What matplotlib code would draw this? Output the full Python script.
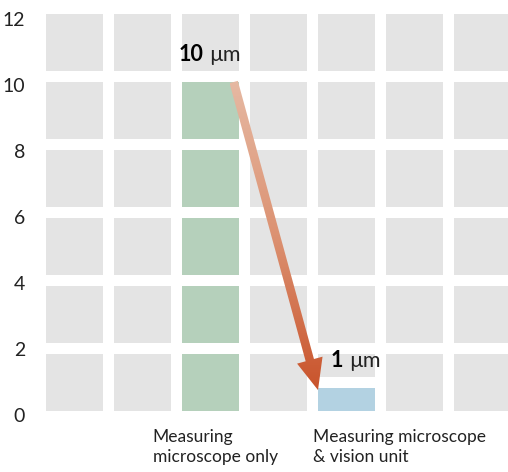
import numpy as np
import matplotlib
matplotlib.use('Agg')
import matplotlib.pyplot as plt
from matplotlib.patches import Rectangle, Polygon
from matplotlib.colors import LinearSegmentedColormap

# data
categories = ['Measuring\nmicroscope only', 'Measuring microscope\n& vision unit']
values = [10, 1]
value_labels = ['10', '1']
unit = 'µm'
cat_cols = [2, 4]
bar_colors = ['#b5d0bb', '#b3d2e2']
yticks = [0, 2, 4, 6, 8, 10, 12]
n_cols = 7
n_rows = 6

# layout
label_dx = [0.31, 0.37]
cat_text_x = [1.57, 3.93]
tile_color = '#e4e4e4'
text_color = '#222222'

plt.rcParams['font.family'] = ['Lato', 'DejaVu Sans']

fig = plt.figure(figsize=(5.08, 4.72), dpi=100)
ax = fig.add_axes([46 / 508, 50 / 472, 462 / 508, 422 / 472])
ax.set_xlim(0, 462 / 68)
ax.set_ylim(0, 422 / 34)

tile_w = 57 / 68
gap = 11 / 34

# tile grid, coloured where a category has a value
for col in range(n_cols):
    fill = None
    if col in cat_cols:
        j = cat_cols.index(col)
        fill = (values[j], bar_colors[j])
    for r in range(n_rows):
        lo, hi = 2 * r + gap, 2 * r + 2
        if fill and fill[0] > lo:
            top = min(fill[0], hi)
            ax.add_patch(Rectangle((col, lo), tile_w, top - lo, color=fill[1], lw=0))
            if top + gap < hi:
                ax.add_patch(Rectangle((col, top + gap), tile_w, hi - top - gap,
                                       color=tile_color, lw=0))
        else:
            ax.add_patch(Rectangle((col, lo), tile_w, hi - lo, color=tile_color, lw=0))

# value labels
for j, col in enumerate(cat_cols):
    x = col + label_dx[j]
    y = values[j] + 0.63
    ax.text(x, y, value_labels[j], ha='right', va='baseline', fontsize=15.5,
            fontweight='bold', color='black')
    ax.annotate(unit, (x, y), xytext=(6, 0), textcoords='offset pixels',
                ha='left', va='baseline', fontsize=15.5, color=text_color)

# category labels
for j, col in enumerate(cat_cols):
    ax.text(cat_text_x[j], -0.2, categories[j], ha='left', va='top', fontsize=12.5,
            color=text_color, linespacing=1.3, clip_on=False)

# arrow with colour gradient, built in pixel space
fig.canvas.draw()
p0 = ax.transData.transform((cat_cols[0] + 0.76, values[0]))
p1 = ax.transData.transform((cat_cols[1], values[1] - 0.06))
d = (p1 - p0) / np.linalg.norm(p1 - p0)
n = np.array([d[1], -d[0]])
hw, head_w, head_l = 4.3, 13.2, 31.0
base = p1 - d * head_l
pts = np.array([p0 + n * hw, base + n * hw, base + n * head_w, p1,
                base - n * head_w, base - n * hw, p0 - n * hw])
pts = ax.transData.inverted().transform(pts)
arrow = Polygon(pts, closed=True, fill=False, edgecolor='none', zorder=3)
ax.add_patch(arrow)
cmap = LinearSegmentedColormap.from_list('arr', ['#e6b9a3', '#dc9272', '#c9532b'])
grad = np.linspace(0, 1, 256).reshape(-1, 1)
img = ax.imshow(grad, cmap=cmap, aspect='auto', interpolation='bilinear',
                extent=(pts[:, 0].min(), pts[:, 0].max(), pts[:, 1].min(), pts[:, 1].max()),
                origin='upper', zorder=3)
img.set_clip_path(arrow)
ax.set_xlim(0, 462 / 68)
ax.set_ylim(0, 422 / 34)

# y ticks
ax.set_yticks([0.206 + t * 0.97 for t in yticks])
ax.set_yticklabels([str(t) for t in yticks])
ax.tick_params(axis='y', length=0, pad=15, labelsize=14, labelcolor=text_color)
ax.set_xticks([])
for s in ax.spines.values():
    s.set_visible(False)

fig.savefig('out.png', dpi=100)
